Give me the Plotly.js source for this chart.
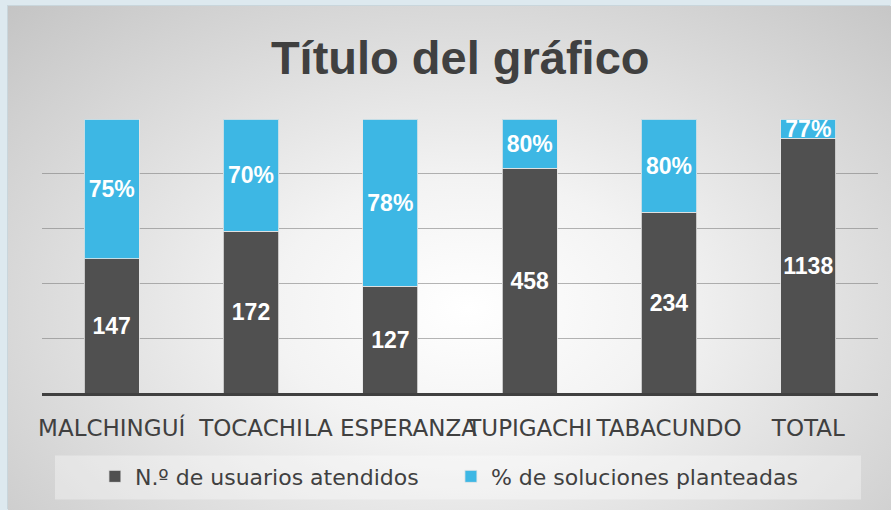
<!DOCTYPE html>
<html>
<head>
<meta charset="utf-8">
<script src="https://cdn.plot.ly/plotly-3.0.1.min.js"></script>
<style>
  html, body { margin: 0; padding: 0; width: 891px; height: 510px; overflow: hidden; background: #dde9ef; }
  #bg { position: absolute; left: 8px; top: 6px; width: 883px; height: 504px;
        background: radial-gradient(ellipse farthest-corner at 52% 60%, #ffffff 0%, #f3f3f3 30%, #c4c4c4 100%);
        box-shadow: -1px -1px 0 #c9d6dc; }
  #chart { position: absolute; left: 0; top: 0; width: 891px; height: 510px; }
</style>
</head>
<body>
<div id="bg"></div>
<div id="chart"></div>
<script>
// Data
const categorias = ['MALCHINGUÍ', 'TOCACHI', 'LA ESPERANZA', 'TUPIGACHI', 'TABACUNDO', 'TOTAL'];
const usuarios = [147, 172, 127, 458, 234, 1138];              // N.º de usuarios atendidos (labels)
const solucionesPct = [75, 70, 78, 80, 80, 77];                // % de soluciones planteadas (labels)
// Share of each 100% stacked column as drawn in the picture
const cuotaUsuarios = [49, 59, 39, 82, 66, 93];
const cuotaSoluciones = [51, 41, 61, 18, 34, 7];

const labelFont = { family: 'Liberation Sans, Arial, sans-serif', size: 23, color: '#ffffff', weight: 'bold' };

const traces = [
  {
    type: 'bar', name: 'N.º de usuarios atendidos', x: categorias, y: cuotaUsuarios,
    text: usuarios.map(String), textposition: 'inside', insidetextanchor: 'middle',
    constraintext: 'none', textfont: labelFont, textangle: 0,
    marker: { color: '#505050', line: { color: 'rgba(230,230,230,0.8)', width: 1 } },
    hoverinfo: 'skip'
  },
  {
    type: 'bar', name: '% de soluciones planteadas', x: categorias, y: cuotaSoluciones,
    text: solucionesPct.map(v => v + '%'), textposition: 'inside', insidetextanchor: 'middle',
    constraintext: 'none', textfont: labelFont, textangle: 0,
    marker: { color: '#3db7e4', line: { color: 'rgba(230,230,230,0.8)', width: 1 } },
    hoverinfo: 'skip'
  }
];

const layout = {
  width: 891, height: 510,
  paper_bgcolor: 'rgba(0,0,0,0)', plot_bgcolor: 'rgba(0,0,0,0)',
  margin: { l: 42, r: 13, t: 119, b: 117 },
  barmode: 'stack', bargap: 0.605,
  title: {
    text: 'Título del gráfico', x: 0.5165, xanchor: 'center',
    y: 1 - 58 / 510, yanchor: 'middle', yref: 'container',
    font: { family: 'Liberation Sans, Arial, sans-serif', size: 47, color: '#404040', weight: 'bold' }
  },
  xaxis: {
    tickangle: 0, showgrid: false, showline: true, linecolor: '#404040', linewidth: 3,
    ticks: '', ticklabelstandoff: 12,
    tickfont: { family: 'DejaVu Sans, sans-serif', size: 23, color: '#404040' }
  },
  yaxis: {
    range: [0, 100], dtick: 20, showticklabels: false, showgrid: true,
    gridcolor: 'rgba(120,120,120,0.55)', gridwidth: 1, zeroline: false, fixedrange: true
  },
  showlegend: true,
  legend: {
    orientation: 'h', x: 0.0633, xanchor: 'left', y: -0.305, yanchor: 'middle',
    bgcolor: 'rgba(0,0,0,0)', entrywidth: 311, traceorder: 'normal',
    font: { family: 'DejaVu Sans, sans-serif', size: 22, color: '#404040' }
  },
  shapes: [
    { type: 'rect', xref: 'paper', yref: 'paper', layer: 'below',
      x0: (55 - 42) / 836, x1: (861 - 42) / 836,
      y0: -(499 - 392.7) / 273.4, y1: -(455 - 392.7) / 273.4,
      fillcolor: 'rgba(255,255,255,0.35)', line: { width: 0 } }
  ]
};

Plotly.newPlot('chart', traces, layout, { displayModeBar: false, staticPlot: true });
</script>
</body>
</html>
